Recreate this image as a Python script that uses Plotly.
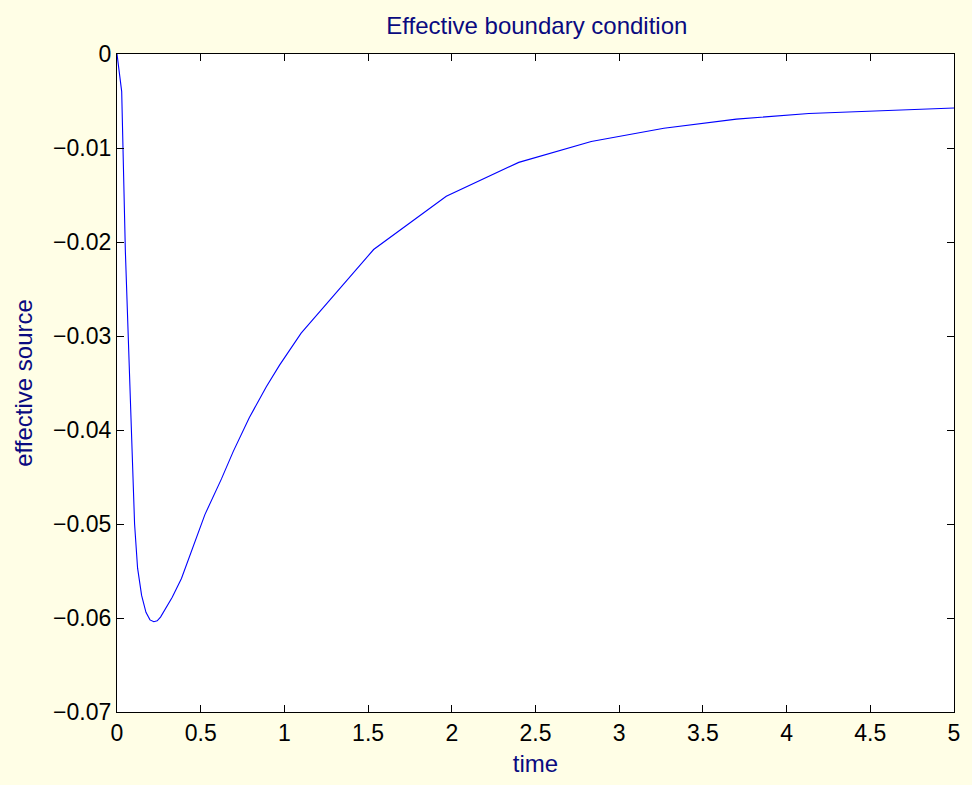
import plotly.graph_objects as go

time = [0, 0.028, 0.05, 0.075, 0.092, 0.105, 0.123, 0.147, 0.173, 0.197, 0.22,
        0.24, 0.26, 0.276, 0.33, 0.385, 0.45, 0.525, 0.624, 0.694, 0.79, 0.892,
        0.971, 1.1, 1.533, 1.967, 2.4, 2.833, 3.267, 3.7, 4.133, 4.567, 5.0]
source = [0, -0.0040, -0.0210, -0.0350, -0.0452, -0.0500, -0.0547, -0.0576, -0.0594,
          -0.0602, -0.0604, -0.0603, -0.0599, -0.0594, -0.0578, -0.0558, -0.0527,
          -0.0490, -0.0452, -0.0423, -0.0387, -0.0354, -0.0331, -0.0297, -0.0208,
          -0.01513, -0.01153, -0.0093, -0.0079, -0.00693, -0.00633, -0.00601, -0.00575]

x_ticks = [0, 0.5, 1, 1.5, 2, 2.5, 3, 3.5, 4, 4.5, 5]
x_tick_text = ["0", "0.5", "1", "1.5", "2", "2.5", "3", "3.5", "4", "4.5", "5"]
y_ticks = [0, -0.01, -0.02, -0.03, -0.04, -0.05, -0.06, -0.07]
y_tick_text = ["0", "\u22120.01", "\u22120.02", "\u22120.03", "\u22120.04",
               "\u22120.05", "\u22120.06", "\u22120.07"]

fig = go.Figure()
fig.add_trace(go.Scatter(x=time, y=source, mode="lines",
                         line=dict(color="#0000ff", width=1.1), showlegend=False))

font = "Liberation Sans, Arial, Helvetica, sans-serif"
navy = "#0a0a80"
fig.update_layout(
    width=972, height=785,
    paper_bgcolor="#fffee6",
    plot_bgcolor="white",
    margin=dict(l=117, r=16, t=54, b=71),
    font=dict(family=font, size=23, color="black"),
    title=dict(text="Effective boundary condition", x=0.5523, xanchor="center",
               y=0.967, yanchor="middle",
               font=dict(family=font, size=24, color=navy)),
    xaxis=dict(range=[0, 5], tickvals=x_ticks, ticktext=x_tick_text,
               ticks="inside", ticklen=7, tickcolor="black", tickwidth=1,
               showline=True, linecolor="black", linewidth=1.2, mirror="ticks",
               showgrid=False, zeroline=False,
               title=dict(text="time", standoff=10,
                          font=dict(family=font, size=24, color=navy))),
    yaxis=dict(range=[-0.07, 0], tickvals=y_ticks, ticktext=y_tick_text,
               ticks="inside", ticklen=7, tickcolor="black", tickwidth=1,
               showline=True, linecolor="black", linewidth=1.2, mirror="ticks",
               showgrid=False, zeroline=False,
               title=dict(text="effective source", standoff=13,
                          font=dict(family=font, size=24, color=navy))),
)

fig.write_html("out.html", config={"displayModeBar": False},
               post_script="document.body.style.margin='0';"
                           "document.body.style.background='#fffee6';")
